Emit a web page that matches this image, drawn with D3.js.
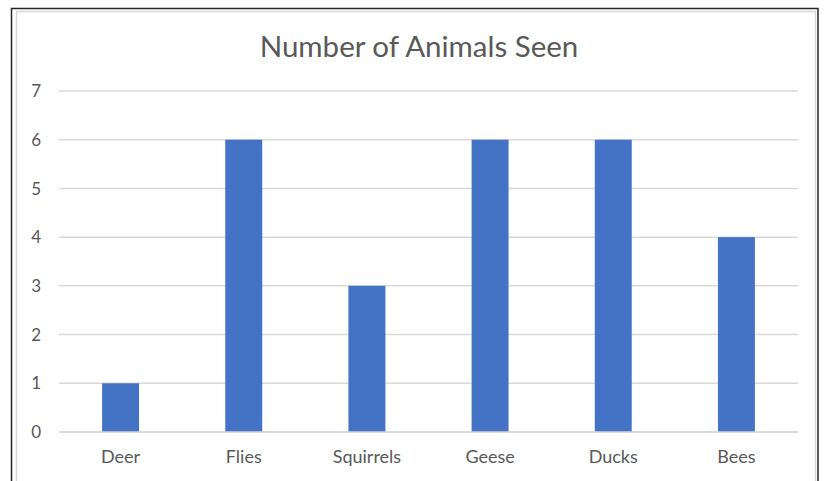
<!DOCTYPE html>
<html>
<head>
    <meta charset="utf-8">
    <script src="https://d3js.org/d3.v7.min.js"></script>
    <style>
        body { margin: 0; background: #fff; }
        svg { display: block; font-family: Lato, "Open Sans", sans-serif; }
    </style>
</head>
<body>
    <svg width="824" height="481"></svg>

    <script>
        var animals = ["Deer", "Flies", "Squirrels", "Geese", "Ducks", "Bees"];
        var counts = [1, 6, 3, 6, 6, 4];
        var yTicks = [0, 1, 2, 3, 4, 5, 6, 7];

        var TEXT = "#595959",
            GRID = "#d9d9d9",
            BAR = "#4472c4";

        var svg = d3.select("svg");

        // window frame + chart border
        svg.append("rect")
            .attr("x", 16.5).attr("y", 11.5)
            .attr("width", 799).attr("height", 480)
            .style("fill", "#fff")
            .style("stroke", GRID)
            .style("stroke-width", 1.5);

        svg.append("path")
            .attr("d", "M11.5,481V8.5H818V481")
            .style("fill", "none")
            .style("stroke", "#262626")
            .style("stroke-width", 1.5);

        var x = d3.scaleBand()
            .domain(animals)
            .range([59, 798])
            .paddingInner(0.7)
            .paddingOuter(0.35);

        var y = d3.scaleLinear()
            .domain([0, 7])
            .range([432, 91]);

        // gridlines
        svg.append("g")
            .attr("class", "grid")
            .selectAll("line")
            .data(yTicks)
            .enter().append("line")
            .attr("x1", 59)
            .attr("x2", 798)
            .attr("y1", function(d) { return y(d); })
            .attr("y2", function(d) { return y(d); })
            .style("stroke", GRID)
            .style("stroke-width", 1.5);

        // y labels
        svg.append("g")
            .selectAll("text")
            .data(yTicks)
            .enter().append("text")
            .attr("x", 41)
            .attr("y", function(d) { return y(d); })
            .attr("dy", "0.36em")
            .attr("text-anchor", "end")
            .style("fill", TEXT)
            .style("font-size", "17px")
            .text(function(d) { return d; });

        // bars
        svg.append("g")
            .selectAll("rect")
            .data(counts)
            .enter().append("rect")
            .attr("x", function(d, i) { return x(animals[i]); })
            .attr("width", x.bandwidth())
            .attr("y", function(d) { return y(d); })
            .attr("height", function(d) { return y(0) - y(d); })
            .style("fill", BAR);

        // redraw baseline over bars
        svg.append("line")
            .attr("x1", 59).attr("x2", 798)
            .attr("y1", y(0)).attr("y2", y(0))
            .style("stroke", GRID)
            .style("stroke-width", 1.5);

        // category labels
        svg.append("g")
            .selectAll("text")
            .data(animals)
            .enter().append("text")
            .attr("x", function(d) { return x(d) + x.bandwidth() / 2; })
            .attr("y", 463)
            .attr("text-anchor", "middle")
            .style("fill", TEXT)
            .style("font-size", "18px")
            .text(function(d) { return d; });

        svg.append("text")
            .attr("x", 419)
            .attr("y", 57)
            .attr("text-anchor", "middle")
            .style("fill", TEXT)
            .style("font-size", "29.5px")
            .text("Number of Animals Seen");
    </script>
</body>
</html>
